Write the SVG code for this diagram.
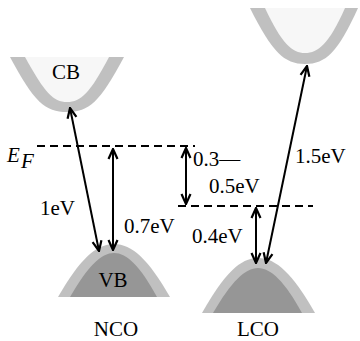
<svg xmlns="http://www.w3.org/2000/svg" width="360" height="341" viewBox="0 0 360 341" font-family="'Liberation Serif', 'Times New Roman', serif">
<style>
text{font-family:'Liberation Serif','Times New Roman',serif;font-size:21px;fill:#000}
.band{fill:#c0c0c0}
.cb{fill:#f7f7f7}
.vb{fill:#969696}
.dash{stroke:#000;stroke-width:2;stroke-dasharray:8 5;fill:none}
.arr{stroke:#000;stroke-width:2;fill:none;marker-start:url(#ah);marker-end:url(#ah)}
</style>
<defs>
<marker id="ah" viewBox="0 0 12 12" refX="11" refY="6" markerWidth="12" markerHeight="12" markerUnits="userSpaceOnUse" orient="auto-start-reverse">
<path d="M1,1.5 L11,6 L1,10.5" fill="none" stroke="#000" stroke-width="2.2"/>
</marker>
</defs>
<rect width="360" height="341" fill="#fff"/>
<g id="nco-cb">
<path class="band" d="M10,57 C34,102 45,112 67,112 C89,112 100,102 124,57 Z"/>
<path class="cb" d="M25,57 C45,93 53,102 67,102 C81,102 90,93 109,57 Z"/>
<text x="66" y="79" text-anchor="middle">CB</text>
</g>
<g id="lco-cb">
<path class="band" d="M250,8 C272,52 284,64 305,64 C326,64 338,52 358,8 Z"/>
<path class="cb" d="M265,8 C282,44 292,53 305,53 C318,53 329,44 345,8 Z"/>
</g>
<g id="nco-vb">
<path class="band" d="M58,297 C80,259 96,244 114,244 C132,244 148,259 170,297 Z"/>
<path class="vb" d="M70,297 C88,266 101,253 114,253 C127,253 140,266 157,297 Z"/>
<text x="113" y="287" text-anchor="middle">VB</text>
</g>
<g id="lco-vb">
<path class="band" d="M202,313 C224,274 240,258 258,258 C276,258 293,274 315,313 Z"/>
<path class="vb" d="M213,313 C231,282 245,268 258,268 C271,268 285,282 302,313 Z"/>
</g>
<g id="connectors">
<line class="dash" x1="37" y1="146" x2="195" y2="146"/>
<line class="dash" x1="178" y1="206" x2="313" y2="206"/>
<line class="arr" x1="70" y1="108" x2="99" y2="251"/>
<line class="arr" x1="113" y1="149" x2="113" y2="250"/>
<line class="arr" x1="186" y1="148" x2="186" y2="204"/>
<line class="arr" x1="256" y1="208" x2="256" y2="263"/>
<line class="arr" x1="307" y1="66" x2="266" y2="263"/>
</g>
<g id="labels">
<text x="7" y="162" font-style="italic">E</text>
<text x="21" y="168" font-size="13" font-style="italic">F</text>
<text x="40" y="215">1eV</text>
<text x="124" y="233">0.7eV</text>
<text x="193" y="166">0.3—</text>
<text x="209" y="193">0.5eV</text>
<text x="295" y="163">1.5eV</text>
<text x="192" y="243">0.4eV</text>
<text x="116" y="336" text-anchor="middle">NCO</text>
<text x="258" y="336" text-anchor="middle">LCO</text>
</g>
</svg>
